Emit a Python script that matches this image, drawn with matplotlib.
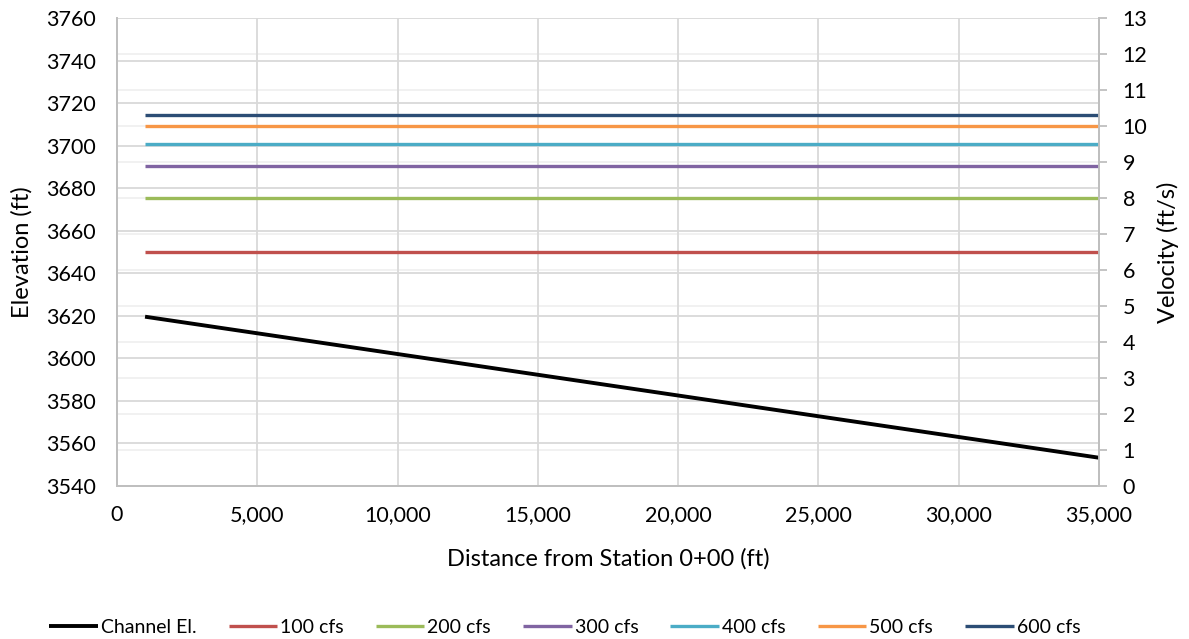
import matplotlib
matplotlib.use("Agg")
import matplotlib.pyplot as plt
from matplotlib.ticker import FuncFormatter, MultipleLocator

plt.rcParams['font.family'] = ['Lato', 'DejaVu Sans']

# channel bed profile (left axis)
station = [1000, 35000]
channel_el = [3619.6, 3553.3]

# velocity per flow rate (right axis), constant along reach
flows = ["100 cfs", "200 cfs", "300 cfs", "400 cfs", "500 cfs", "600 cfs"]
velocity = [6.5, 8.0, 8.9, 9.5, 10.0, 10.3]
colors = ["#c0504d", "#9bbb59", "#8064a2", "#4bacc6", "#f79646", "#2c4d75"]

fig = plt.figure(figsize=(11.89, 6.39), dpi=100)
ax = fig.add_axes([0.0984, 0.2394, 0.8259, 0.7324])
ax2 = ax.twinx()

ax.set_xlim(0, 35000)
ax.set_ylim(3540, 3760)
ax.yaxis.set_major_locator(MultipleLocator(20))
ax.xaxis.set_major_locator(MultipleLocator(5000))
ax.xaxis.set_major_formatter(FuncFormatter(lambda v, p: f"{int(v):,}"))
ax2.set_ylim(0, 13)
ax2.yaxis.set_major_locator(MultipleLocator(1))

# gridlines: light ones follow the right axis, darker ones the left axis
for v in range(0, 14):
    ax.axhline(3540 + v * 220 / 13, color="#f0f0f0", lw=1.3, zorder=0)
ax.grid(True, axis="both", color="#d9d9d9", lw=1.3, zorder=0.5)
ax.set_axisbelow(True)

ch_line, = ax.plot(station, channel_el, color="black", lw=2.8, label="Channel El.",
                   solid_capstyle="butt", zorder=3)
handles = [ch_line]
for name, vel, c in zip(flows, velocity, colors):
    h, = ax2.plot([station[0], station[-1]], [vel, vel], color=c, lw=2.4, label=name,
                  solid_capstyle="butt")
    handles.append(h)

for a in (ax, ax2):
    a.spines["top"].set_visible(False)
    for s in ("left", "right", "bottom"):
        a.spines[s].set_color("#bfbfbf")
        a.spines[s].set_linewidth(1.3)

ax.tick_params(axis="y", length=0, pad=15, labelsize=15.5)
ax.tick_params(axis="x", length=0, pad=14, labelsize=15.5)
ax2.tick_params(axis="y", length=6, color="#bfbfbf", width=1.3, pad=11, labelsize=15.5)

ax.set_xlabel("Distance from Station 0+00 (ft)", fontsize=17, labelpad=16)
ax.set_ylabel("Elevation (ft)", fontsize=17, labelpad=10)
ax2.set_ylabel("Velocity (ft/s)", fontsize=17, labelpad=7)

fig.legend(handles=handles, loc="lower center", bbox_to_anchor=(0.475, -0.022), ncol=7,
           frameon=False, fontsize=14, handlelength=2.5, handletextpad=0.15,
           columnspacing=1.65)

fig.savefig("out.png", dpi=100)
